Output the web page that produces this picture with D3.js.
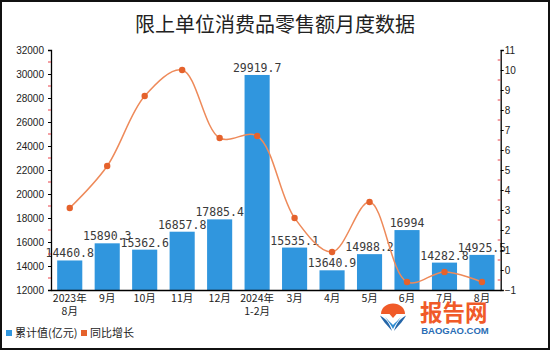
<!DOCTYPE html>
<html>
<head>
<meta charset="utf-8">
<script src="https://cdn.jsdelivr.net/npm/d3@7"></script>
<style>
  html, body { margin: 0; padding: 0; background: #fff; }
  svg { display: block; }
  text { font-family: "Liberation Sans", Arial, sans-serif; fill: #222; }
  .cjk { font-family: "Noto Sans CJK SC", "Noto Sans", sans-serif; }
</style>
</head>
<body>
<svg id="chart" width="550" height="350"></svg>
<script>
// Monthly retail sales of consumer goods by enterprises above designated size
const categories = ["2023年\n8月", "9月", "10月", "11月", "12月", "2024年\n1-2月", "3月", "4月", "5月", "6月", "7月", "8月"];
const salesValues = [14460.8, 15890.3, 15362.6, 16857.8, 17885.4, 29919.7, 15535.1, 13640.9, 14988.2, 16994, 14282.8, 14925.5];
const salesLabels = ["14460.8", "15890.3", "15362.6", "16857.8", "17885.4", "29919.7", "15535.1", "13640.9", "14988.2", "16994", "14282.8", "14925.5"];
const growthValues = [3.1, 5.2, 8.7, 10.0, 6.6, 6.7, 2.6, 0.9, 3.4, -0.6, -0.1, -0.6];
const leftTicks = [12000, 14000, 16000, 18000, 20000, 22000, 24000, 26000, 28000, 30000, 32000];
const rightTicks = [-1, 0, 1, 2, 3, 4, 5, 6, 7, 8, 9, 10, 11];
const title = "限上单位消费品零售额月度数据";
const legendNames = ["累计值(亿元)", "同比增长"];

const barColor = "#3096DE";
const lineColor = "#EE8A5A";
const dotColor = "#E5622C";

const svg = d3.select("#chart");
const W = 550, H = 350;
const plotLeft = 51, plotRight = 500.7, plotTop = 50, plotBottom = 290;

// frame
svg.append("rect").attr("x", 1).attr("y", 1).attr("width", W - 2).attr("height", H - 2)
  .attr("fill", "#fff").attr("stroke", "#111").attr("stroke-width", 2);

// title
svg.append("text").attr("class", "cjk").attr("x", 275).attr("y", 32)
  .attr("text-anchor", "middle").attr("font-size", 20).attr("fill", "#222").text(title);

const idx = d3.range(categories.length);
const x = d3.scaleBand().domain(idx).range([plotLeft, plotRight]).paddingInner(0.33).paddingOuter(0.165);
const yL = d3.scaleLinear().domain([12000, 32000]).range([plotBottom, plotTop]);
const yR = d3.scaleLinear().domain([-1, 11]).range([plotBottom, plotTop]);

// bars
svg.append("g").selectAll("rect").data(idx).join("rect")
  .attr("x", i => x(i)).attr("width", x.bandwidth())
  .attr("y", i => yL(salesValues[i])).attr("height", i => plotBottom - yL(salesValues[i]))
  .attr("fill", barColor);

// bar value labels
svg.append("g").selectAll("text").data(idx).join("text")
  .attr("x", i => x(i) + x.bandwidth() / 2).attr("y", i => yL(salesValues[i]) - 3)
  .attr("text-anchor", "middle")
  .style("font-family", "'DejaVu Sans Mono', monospace").attr("font-size", 11.5).style("fill", "#3a3a3a")
  .text(i => salesLabels[i]);

// left axis
const axL = d3.axisLeft(yL).tickValues(leftTicks).tickSize(3).tickPadding(4).tickFormat(d3.format("d"));
const gL = svg.append("g").attr("transform", `translate(${plotLeft},0)`).call(axL);
gL.select(".domain").attr("stroke", "#000").attr("stroke-width", 1.3);
gL.selectAll(".tick line").attr("stroke", "#000");
gL.selectAll(".tick text").attr("font-size", 10).attr("fill", "#222").style("font-family", "'Liberation Sans', Arial, sans-serif");
// minor ticks (left)
gL.append("g").selectAll("line").data(d3.range(13000, 32000, 2000)).join("line")
  .attr("x1", -3).attr("x2", 0).attr("y1", d => yL(d)).attr("y2", d => yL(d))
  .attr("stroke", "#E8434A");

// right axis
const axR = d3.axisRight(yR).tickValues(rightTicks).tickSize(3).tickPadding(1).tickFormat(d3.format("d"));
const gR = svg.append("g").attr("transform", `translate(${plotRight},0)`).call(axR);
gR.select(".domain").attr("stroke", "#000").attr("stroke-width", 1.3);
gR.selectAll(".tick line").attr("stroke", "#000");
gR.selectAll(".tick text").attr("font-size", 10).attr("fill", "#222").style("font-family", "'Liberation Sans', Arial, sans-serif");
gR.append("g").selectAll("line").data(d3.range(-0.5, 11, 1)).join("line")
  .attr("x1", -3).attr("x2", 0).attr("y1", d => yR(d)).attr("y2", d => yR(d))
  .attr("stroke", "#E8434A");

// bottom axis
const axB = d3.axisBottom(x).tickSize(0).tickFormat(() => "");
const gB = svg.append("g").attr("transform", `translate(0,${plotBottom})`).call(axB);
gB.select(".domain").attr("stroke", "#000").attr("stroke-width", 1.3);
gB.selectAll(".tick").each(function (i) {
  const lines = categories[i].split("\n");
  const t = d3.select(this).append("text").attr("class", "cjk")
    .attr("text-anchor", "middle").attr("font-size", 10.5).attr("fill", "#222");
  lines.forEach((s, k) => t.append("tspan").attr("x", 0).attr("y", 12 + k * 12.5).text(s));
});

// growth line
const line = d3.line()
  .x((d, i) => x(i) + x.bandwidth() / 2)
  .y(d => yR(d))
  .curve(d3.curveCatmullRom.alpha(0.5));
svg.append("path").datum(growthValues).attr("d", line)
  .attr("fill", "none").attr("stroke", lineColor).attr("stroke-width", 1.5);
svg.append("g").selectAll("circle").data(growthValues).join("circle")
  .attr("cx", (d, i) => x(i) + x.bandwidth() / 2).attr("cy", d => yR(d))
  .attr("r", 3.2).attr("fill", dotColor);

// legend
const lg = svg.append("g");
lg.append("rect").attr("x", 6).attr("y", 330).attr("width", 6).attr("height", 6).attr("fill", barColor);
lg.append("text").attr("class", "cjk").attr("x", 15).attr("y", 337).attr("font-size", 11).text(legendNames[0]);
lg.append("rect").attr("x", 81).attr("y", 330).attr("width", 6).attr("height", 6).attr("fill", dotColor);
lg.append("text").attr("class", "cjk").attr("x", 90).attr("y", 337).attr("font-size", 11).text(legendNames[1]);

// site mark
const mk = svg.append("g");
mk.append("path").attr("d", "M381,314 A12,10.5 0 0 1 405,314 L396.5,314 L393,318 L389.5,314 Z").attr("fill", "#F05A28");
mk.append("path").attr("d", "M380,315.5 C384,323 389,327 392,331 C390,325 388,320 380,315.5 Z").attr("fill", "#2566A8");
mk.append("path").attr("d", "M406,315.5 C402,323 397,327 394,331 C396,325 398,320 406,315.5 Z").attr("fill", "#2566A8");
mk.append("path").attr("d", "M385,317 C388,321 391,325 393,329 C395,325 398,321 401,317 C398,320 395,323 393,325 C391,323 388,320 385,317 Z").attr("fill", "#2E8BD0");
mk.append("text").attr("class", "cjk").attr("x", 420).attr("y", 321).attr("font-size", 22.5)
  .attr("font-weight", "bold").style("fill", "#F05A28").text("报告网");
mk.append("text").attr("x", 455).attr("y", 333.5).attr("text-anchor", "middle").attr("font-size", 9.5)
  .attr("font-weight", "bold").style("fill", "#2A6DB5").text("BAOGAO.COM");
</script>
</body>
</html>
